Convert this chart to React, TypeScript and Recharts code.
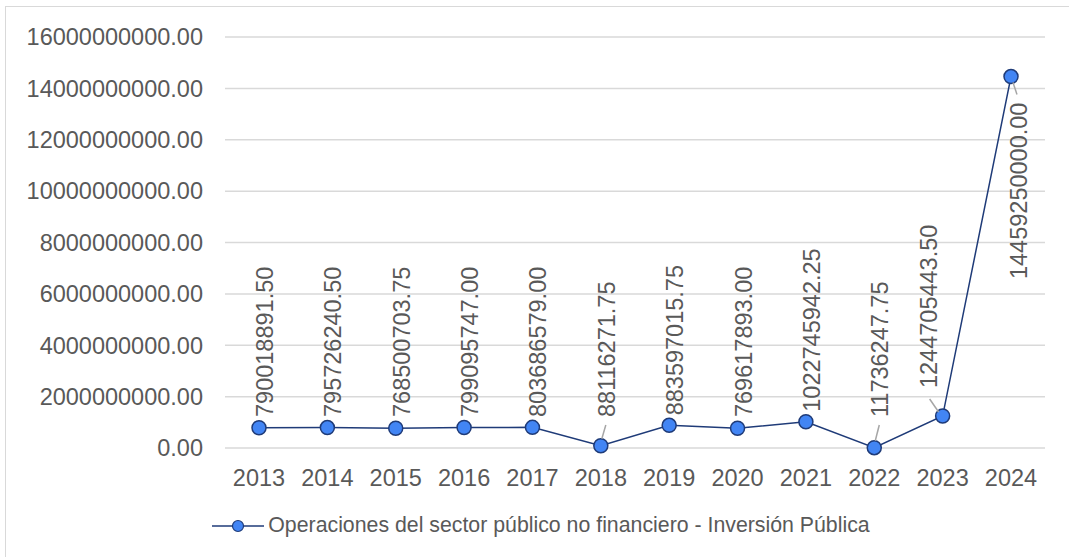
import { CartesianGrid, LabelList, Line, LineChart, XAxis, YAxis } from 'recharts'

const years = ['2013', '2014', '2015', '2016', '2017', '2018', '2019', '2020', '2021', '2022', '2023', '2024']

const inversionPublica = [
  790018891.5, 795726240.5, 768500703.75, 799095747.0, 803686579.0, 88116271.75,
  883597015.75, 769617893.0, 1022745942.25, 11736247.75, 1244705443.5, 14459250000.0,
]

const yTicks = [0, 2e9, 4e9, 6e9, 8e9, 10e9, 12e9, 14e9, 16e9]

const seriesName = 'Operaciones del sector público no financiero - Inversión Pública'

const data = years.map((year, i) => ({ year, value: inversionPublica[i] }))

const FONT = '"Liberation Sans", Arial, sans-serif'
const TEXT = '#595959'
const GRID = '#d9d9d9'
const LINE = '#1f3b78'
const DOT = '#4285f4'
const LEADER = '#a6a6a6'

// labels sit above their point, but never lower than this line
const LABEL_FLOOR = 417

function RotatedText({ x, y, anchor, children }: { x: number; y: number; anchor: 'start' | 'end'; children: string }) {
  return (
    <text
      x={x}
      y={y}
      transform={`rotate(-90 ${x} ${y})`}
      textAnchor={anchor}
      dominantBaseline="central"
      fontSize={23.5}
      fontFamily={FONT}
      fill={TEXT}
    >
      {children}
    </text>
  )
}

function ValueLabel(props: any) {
  const { x, y, value, index } = props
  if (x == null || y == null) return null
  const text = Number(value).toFixed(2)

  if (y < 200) {
    // point near the top: label hangs below it
    const tx = x + 8
    const top = y + 26
    return (
      <g>
        <line x1={x + 2} y1={y + 6} x2={x + 6} y2={y + 18} stroke={LEADER} strokeWidth={1.5} />
        <RotatedText x={tx} y={top} anchor="end">{text}</RotatedText>
      </g>
    )
  }

  const next = inversionPublica[index + 1]
  if (next != null && next - value > 4e9) {
    // steep climb after this point: move the label left, out of the line's way
    const tx = x - 14
    const bottom = y - 28
    return (
      <g>
        <line x1={x - 4} y1={y - 4} x2={x - 13} y2={y - 17} stroke={LEADER} strokeWidth={1.5} />
        <RotatedText x={tx} y={bottom} anchor="start">{text}</RotatedText>
      </g>
    )
  }

  const tx = x + 6
  const bottom = Math.min(y - 10, LABEL_FLOOR)
  const gap = y - bottom
  return (
    <g>
      {gap > 18 && (
        <line x1={x + 1} y1={y - 7} x2={x + 5} y2={bottom + 8} stroke={LEADER} strokeWidth={1.5} />
      )}
      <RotatedText x={tx} y={bottom} anchor="start">{text}</RotatedText>
    </g>
  )
}

function ChartLegend() {
  return (
    <div
      style={{
        position: 'absolute',
        left: 0,
        top: 513,
        width: 1082,
        display: 'flex',
        alignItems: 'center',
        justifyContent: 'center',
        fontFamily: FONT,
        fontSize: 21.3,
        color: TEXT,
        whiteSpace: 'nowrap',
      }}
    >
      <svg width={55} height={16} style={{ marginRight: 1 }}>
        <line x1={0} y1={8} x2={52} y2={8} stroke={LINE} strokeWidth={1.5} />
        <circle cx={26} cy={8} r={5.5} fill={DOT} stroke={LINE} strokeWidth={1.2} />
      </svg>
      <span>{seriesName}</span>
    </div>
  )
}

export default function App() {
  return (
    <div style={{ position: 'absolute', left: 0, top: 0, width: 1069, height: 557, overflow: 'hidden', background: '#fff' }}>
      <div
        style={{
          position: 'absolute',
          left: 5,
          top: 6,
          width: 1100,
          height: 600,
          borderLeft: `1.5px solid ${GRID}`,
          borderTop: `1.5px solid ${GRID}`,
        }}
      />
      <div style={{ position: 'absolute', left: 0, top: 0 }}>
        <LineChart width={1069} height={557} data={data} margin={{ top: 37, right: 24, bottom: 79, left: 0 }}>
          <CartesianGrid vertical={false} stroke={GRID} strokeWidth={1.5} />
          <XAxis
            dataKey="year"
            height={30}
            padding={{ left: 34, right: 34 }}
            axisLine={false}
            tickLine={false}
            tickMargin={15}
            tick={{ fill: TEXT, fontSize: 23.5, fontFamily: FONT }}
          />
          <YAxis
            width={225}
            domain={[0, 16e9]}
            ticks={yTicks}
            interval={0}
            axisLine={false}
            tickLine={false}
            tickMargin={16}
            tickFormatter={(v: number) => v.toFixed(2)}
            tick={{ fill: TEXT, fontSize: 23.5, fontFamily: FONT }}
          />
          <Line
            type="linear"
            dataKey="value"
            name={seriesName}
            stroke={LINE}
            strokeWidth={1.5}
            dot={{ r: 7, fill: DOT, stroke: LINE, strokeWidth: 1.5 }}
            activeDot={false}
            isAnimationActive={false}
          >
            <LabelList dataKey="value" content={<ValueLabel />} />
          </Line>
        </LineChart>
      </div>
      <ChartLegend />
    </div>
  )
}
